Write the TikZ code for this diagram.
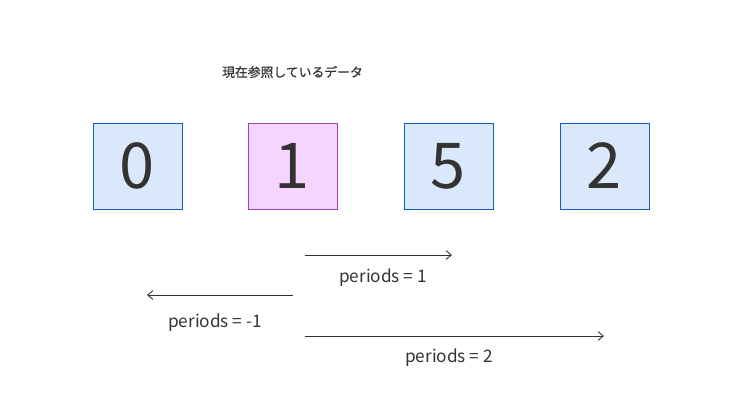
\documentclass[tikz,border=0pt]{standalone}
\usepackage{fontspec}
\setmainfont{Noto Sans CJK JP}
\usetikzlibrary{arrows.meta}
\definecolor{boxblue}{HTML}{DAE8FC}
\definecolor{lineblue}{HTML}{1060C0}
\definecolor{boxpink}{HTML}{F5D5FF}
\definecolor{linepink}{HTML}{A040C0}
\definecolor{txt}{HTML}{333333}

\begin{document}
\begin{tikzpicture}[x=0.02cm, y=-0.02cm,
    cell/.style={draw=lineblue, fill=boxblue, minimum width=1.78cm, minimum height=1.72cm, inner sep=0pt, font=\fontsize{36}{36}\selectfont, text=txt},
    current/.style={cell, draw=linepink, fill=boxpink},
    lbl/.style={font=\fontsize{9.8}{10}\selectfont, text=txt},
    moveline/.style={-{Straight Barb[length=3pt,width=5pt]}, line width=0.5pt, draw=txt}]
        \useasboundingbox (0,0) rectangle (750,400);

        % Cellules
        \node[cell] (c0) at (137.5,166) {0};
        \node[current] (c1) at (292.5,166) {1};
        \node[cell] (c2) at (448.5,166) {5};
        \node[cell] (c3) at (604.5,166) {2};

        % Titre
        \node[font=\fontsize{7.3}{8}\selectfont\addfontfeature{FakeBold=0.6}, text=txt] (title) at (292.5,72) {現在参照しているデータ};

        % Points
        \coordinate (a1) at (305,255);
        \coordinate (b1) at (452,255);
        \coordinate (a2) at (293,295);
        \coordinate (b2) at (147,295);
        \coordinate (a3) at (305,336);
        \coordinate (b3) at (604,336);

        % Decalages
        \draw[moveline] (a1) -- (b1);
        \draw[moveline] (a2) -- (b2);
        \draw[moveline] (a3) -- (b3);

        \node[lbl] (p1) at (383,278) {periods = 1};
        \node[lbl] (p2) at (215,323) {periods = -1};
        \node[lbl] (p3) at (449,358) {periods = 2};
    \end{tikzpicture}
\end{document}
